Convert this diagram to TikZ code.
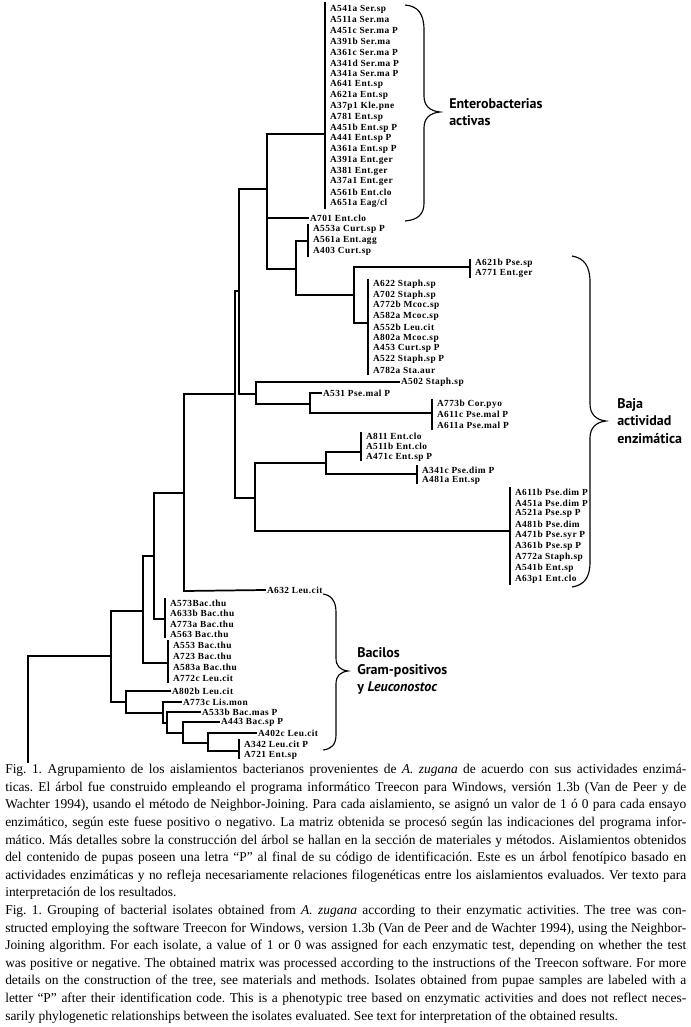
\documentclass[tikz,border=0pt]{standalone}
\usepackage{fontspec}
\setmainfont{Liberation Serif}
\newfontfamily\grpfont{PT Sans}
\newfontfamily\lblface[LetterSpace=5]{Liberation Serif}
\newcommand\lblfont{\lblface\fontsize{7}{7.5}\selectfont\bfseries}
\begin{document}
\begin{tikzpicture}[x=0.75pt,y=-0.75pt,
  br/.style={line width=1.3pt,line cap=rect},
  brace/.style={line width=0.85pt},
  lbl/.style={anchor=west,inner sep=0pt,outer xsep=1.5pt,font=\lblfont},
  grp/.style={anchor=west,inner sep=0pt,align=left,font=\grpfont\bfseries\fontsize{10.5}{12.9}\selectfont}]
\useasboundingbox (0,0) rectangle (691,1027);

% ---------- leaf labels ----------
\foreach \t [count=\i from 0] in {A541a Ser.sp, A511a Ser.ma, A451c Ser.ma P, A391b Ser.ma, A361c Ser.ma P, A341d Ser.ma P, A341a Ser.ma P, A641 Ent.sp, A621a Ent.sp, A37p1 Kle.pne, A781 Ent.sp, A451b Ent.sp P, A441 Ent.sp P, A361a Ent.sp P, A391a Ent.ger, A381 Ent.ger, A37a1 Ent.ger, A561b Ent.clo, A651a Eag/cl}
  \node[lbl] (ent\i) at (328,9+10.8*\i) {\t};
\node[lbl] (a701) at (308,218) {A701 Ent.clo};
\foreach \t [count=\i from 0] in {A553a Curt.sp P, A561a Ent.agg, A403 Curt.sp}
  \node[lbl] (cu\i) at (311,229+11.2*\i) {\t};
\foreach \t [count=\i from 0] in {A621b Pse.sp, A771 Ent.ger}
  \node[lbl] (ps\i) at (473,263+10.8*\i) {\t};
\foreach \t [count=\i from 0] in {A622 Staph.sp, A702 Staph.sp, A772b Mcoc.sp, A582a Mcoc.sp, A552b Leu.cit, A802a Mcoc.sp, A453 Curt.sp P, A522 Staph.sp P, A782a Sta.aur}
  \node[lbl] (st\i) at (371,284+10.8*\i) {\t};
\node[lbl] (a502) at (399,382) {A502 Staph.sp};
\node[lbl] (a531) at (321,393) {A531 Pse.mal P};
\foreach \t [count=\i from 0] in {A773b Cor.pyo, A611c Pse.mal P, A611a Pse.mal P}
  \node[lbl] (co\i) at (435,404+10.8*\i) {\t};
\foreach \t [count=\i from 0] in {A811 Ent.clo, A511b Ent.clo, A471c Ent.sp P}
  \node[lbl] (ec\i) at (364,436+10.8*\i) {\t};
\foreach \t [count=\i from 0] in {A341c Pse.dim P, A481a Ent.sp}
  \node[lbl] (pd\i) at (420,470+10.8*\i) {\t};
\foreach \t [count=\i from 0] in {A611b Pse.dim P, A451a Pse.dim P, A521a Pse.sp P, A481b Pse.dim, A471b Pse.syr P, A361b Pse.sp P, A772a Staph.sp, A541b Ent.sp, A63p1 Ent.clo}
  \node[lbl] (bg\i) at (513,492+10.9*\i) {\t};
\node[lbl] (a632) at (265,590) {A632 Leu.cit};
\foreach \t [count=\i from 0] in {A573Bac.thu, A633b Bac.thu, A773a Bac.thu, A563 Bac.thu}
  \node[lbl] (bt\i) at (168,603+10.5*\i) {\t};
\foreach \t [count=\i from 0] in {A553 Bac.thu, A723 Bac.thu, A583a Bac.thu, A772c Leu.cit}
  \node[lbl] (bu\i) at (171,645+11*\i) {\t};
\node[lbl] (a802b) at (170,691) {A802b Leu.cit};
\node[lbl] (a773c) at (181,702) {A773c Lis.mon};
\node[lbl] (a533b) at (200,712) {A533b Bac.mas P};
\node[lbl] (a443) at (219,722) {A443 Bac.sp P};
\node[lbl] (a402c) at (256,733) {A402c Leu.cit};
\foreach \t [count=\i from 0] in {A342 Leu.cit P, A721 Ent.sp}
  \node[lbl] (lc\i) at (242,744+11*\i) {\t};

% ---------- tree ----------
\draw[br] (325,3) -- (325,208);
\draw[br] (325,134) -| (267,269) -- (296,269);
\draw[br] (267,218) -- (a701.west);
\draw[br] (308,225) -- (308,256);
\draw[br] (308,241) -| (296,295) -- (354,295);
\draw[br] (470,260) -- (470,277);
\draw[br] (470,267) -| (354,323) -- (368,323);
\draw[br] (368,280) -- (368,374);
\draw[br] (267,189) -| (239,394) -- (256,394);
\draw[br] (a502.west) -| (256,404) -- (310,404);
\draw[br] (a531.west) -| (310,413) -- (432,413);
\draw[br] (432,400) -- (432,429);
\draw[br] (239,291) -| (235,498) -- (255,498);
\draw[br] (361,433) -- (361,460);
\draw[br] (361,452) -| (326,474) -- (417,474);
\draw[br] (417,466) -- (417,483);
\draw[br] (326,463) -| (255,531) -- (510,531);
\draw[br] (510,488) -- (510,584);
\draw[br] (235,394) -| (184,591) -- (a632.west);
\draw[br] (184,493) -| (154,619) -- (165,619);
\draw[br] (165,599) -- (165,637);
\draw[br] (154,556) -| (143,663) -- (168,663);
\draw[br] (168,641) -- (168,682);
\draw[br] (143,611) -| (111,702) -- (126,702);
\draw[br] (a802b.west) -| (126,713) -- (163,713);
\draw[br] (a773c.west) -| (163,723) -- (167,723);
\draw[br] (a533b.west) -| (167,733) -- (183,733);
\draw[br] (a443.west) -| (183,743) -- (208,743);
\draw[br] (a402c.west) -| (208,751) -- (239,751);
\draw[br] (239,740) -- (239,758);
\draw[br] (111,656) -| (28,762);

% ---------- braces ----------
\draw[brace] (405,5) .. controls (418,6) and (424,14) .. (424,30) -- (424,96)
  .. controls (424,106) and (430,111) .. (440,112) .. controls (430,113) and (424,118) .. (424,128)
  -- (424,203) .. controls (424,214) and (418,220) .. (405,221);
\draw[brace] (572,256) .. controls (584,258) and (590,266) .. (590,282) -- (590,404)
  .. controls (590,414) and (596,420) .. (606,421) .. controls (596,422) and (590,428) .. (590,438)
  -- (590,562) .. controls (590,578) and (584,585) .. (572,587);
\draw[brace] (323,594) .. controls (331,595) and (336,601) .. (336,612) -- (336,658)
  .. controls (336,666) and (340,670) .. (348,671) .. controls (340,672) and (336,676) .. (336,684)
  -- (336,735) .. controls (336,745) and (331,749) .. (323,750);

% ---------- group labels ----------
\node[grp] (g1) at (449,112) {Enterobacterias\\activas};
\node[grp] (g2) at (617,421) {Baja\\actividad\\enzimática};
\node[grp] (g3) at (357,671) {Bacilos\\Gram-positivos\\y \textit{Leuconostoc}};

% ---------- caption ----------
\node[anchor=north west,inner sep=0pt,text width=510.75pt,align=justify,
  font=\fontsize{10.1}{13.2}\selectfont] (cap) at (5,764) {\frenchspacing\hyphenpenalty=10000\exhyphenpenalty=10000\noindent
Fig. 1. Agrupamiento de los aislamientos bacterianos provenientes de \textit{A. zugana} de acuerdo con sus actividades enzimá-\linebreak
ticas. El árbol fue construido empleando el programa informático Treecon para Windows, versión 1.3b (Van de Peer y de\linebreak
Wachter 1994), usando el método de Neighbor-Joining. Para cada aislamiento, se asignó un valor de 1 ó 0 para cada ensayo\linebreak
enzimático, según este fuese positivo o negativo. La matriz obtenida se procesó según las indicaciones del programa infor-\linebreak
mático. Más detalles sobre la construcción del árbol se hallan en la sección de materiales y métodos. Aislamientos obtenidos\linebreak
del contenido de pupas poseen una letra “P” al final de su código de identificación. Este es un árbol fenotípico basado en\linebreak
actividades enzimáticas y no refleja necesariamente relaciones filogenéticas entre los aislamientos evaluados. Ver texto para\linebreak
interpretación de los resultados.\par\noindent
Fig. 1. Grouping of bacterial isolates obtained from \textit{A. zugana} according to their enzymatic activities. The tree was con-\linebreak
structed employing the software Treecon for Windows, version 1.3b (Van de Peer and de Wachter 1994), using the Neighbor-\linebreak
Joining algorithm. For each isolate, a value of 1 or 0 was assigned for each enzymatic test, depending on whether the test\linebreak
was positive or negative. The obtained matrix was processed according to the instructions of the Treecon software. For more\linebreak
details on the construction of the tree, see materials and methods. Isolates obtained from pupae samples are labeled with a\linebreak
letter “P” after their identification code. This is a phenotypic tree based on enzymatic activities and does not reflect neces-\linebreak
sarily phylogenetic relationships between the isolates evaluated. See text for interpretation of the obtained results.\par};
\end{tikzpicture}
\end{document}
